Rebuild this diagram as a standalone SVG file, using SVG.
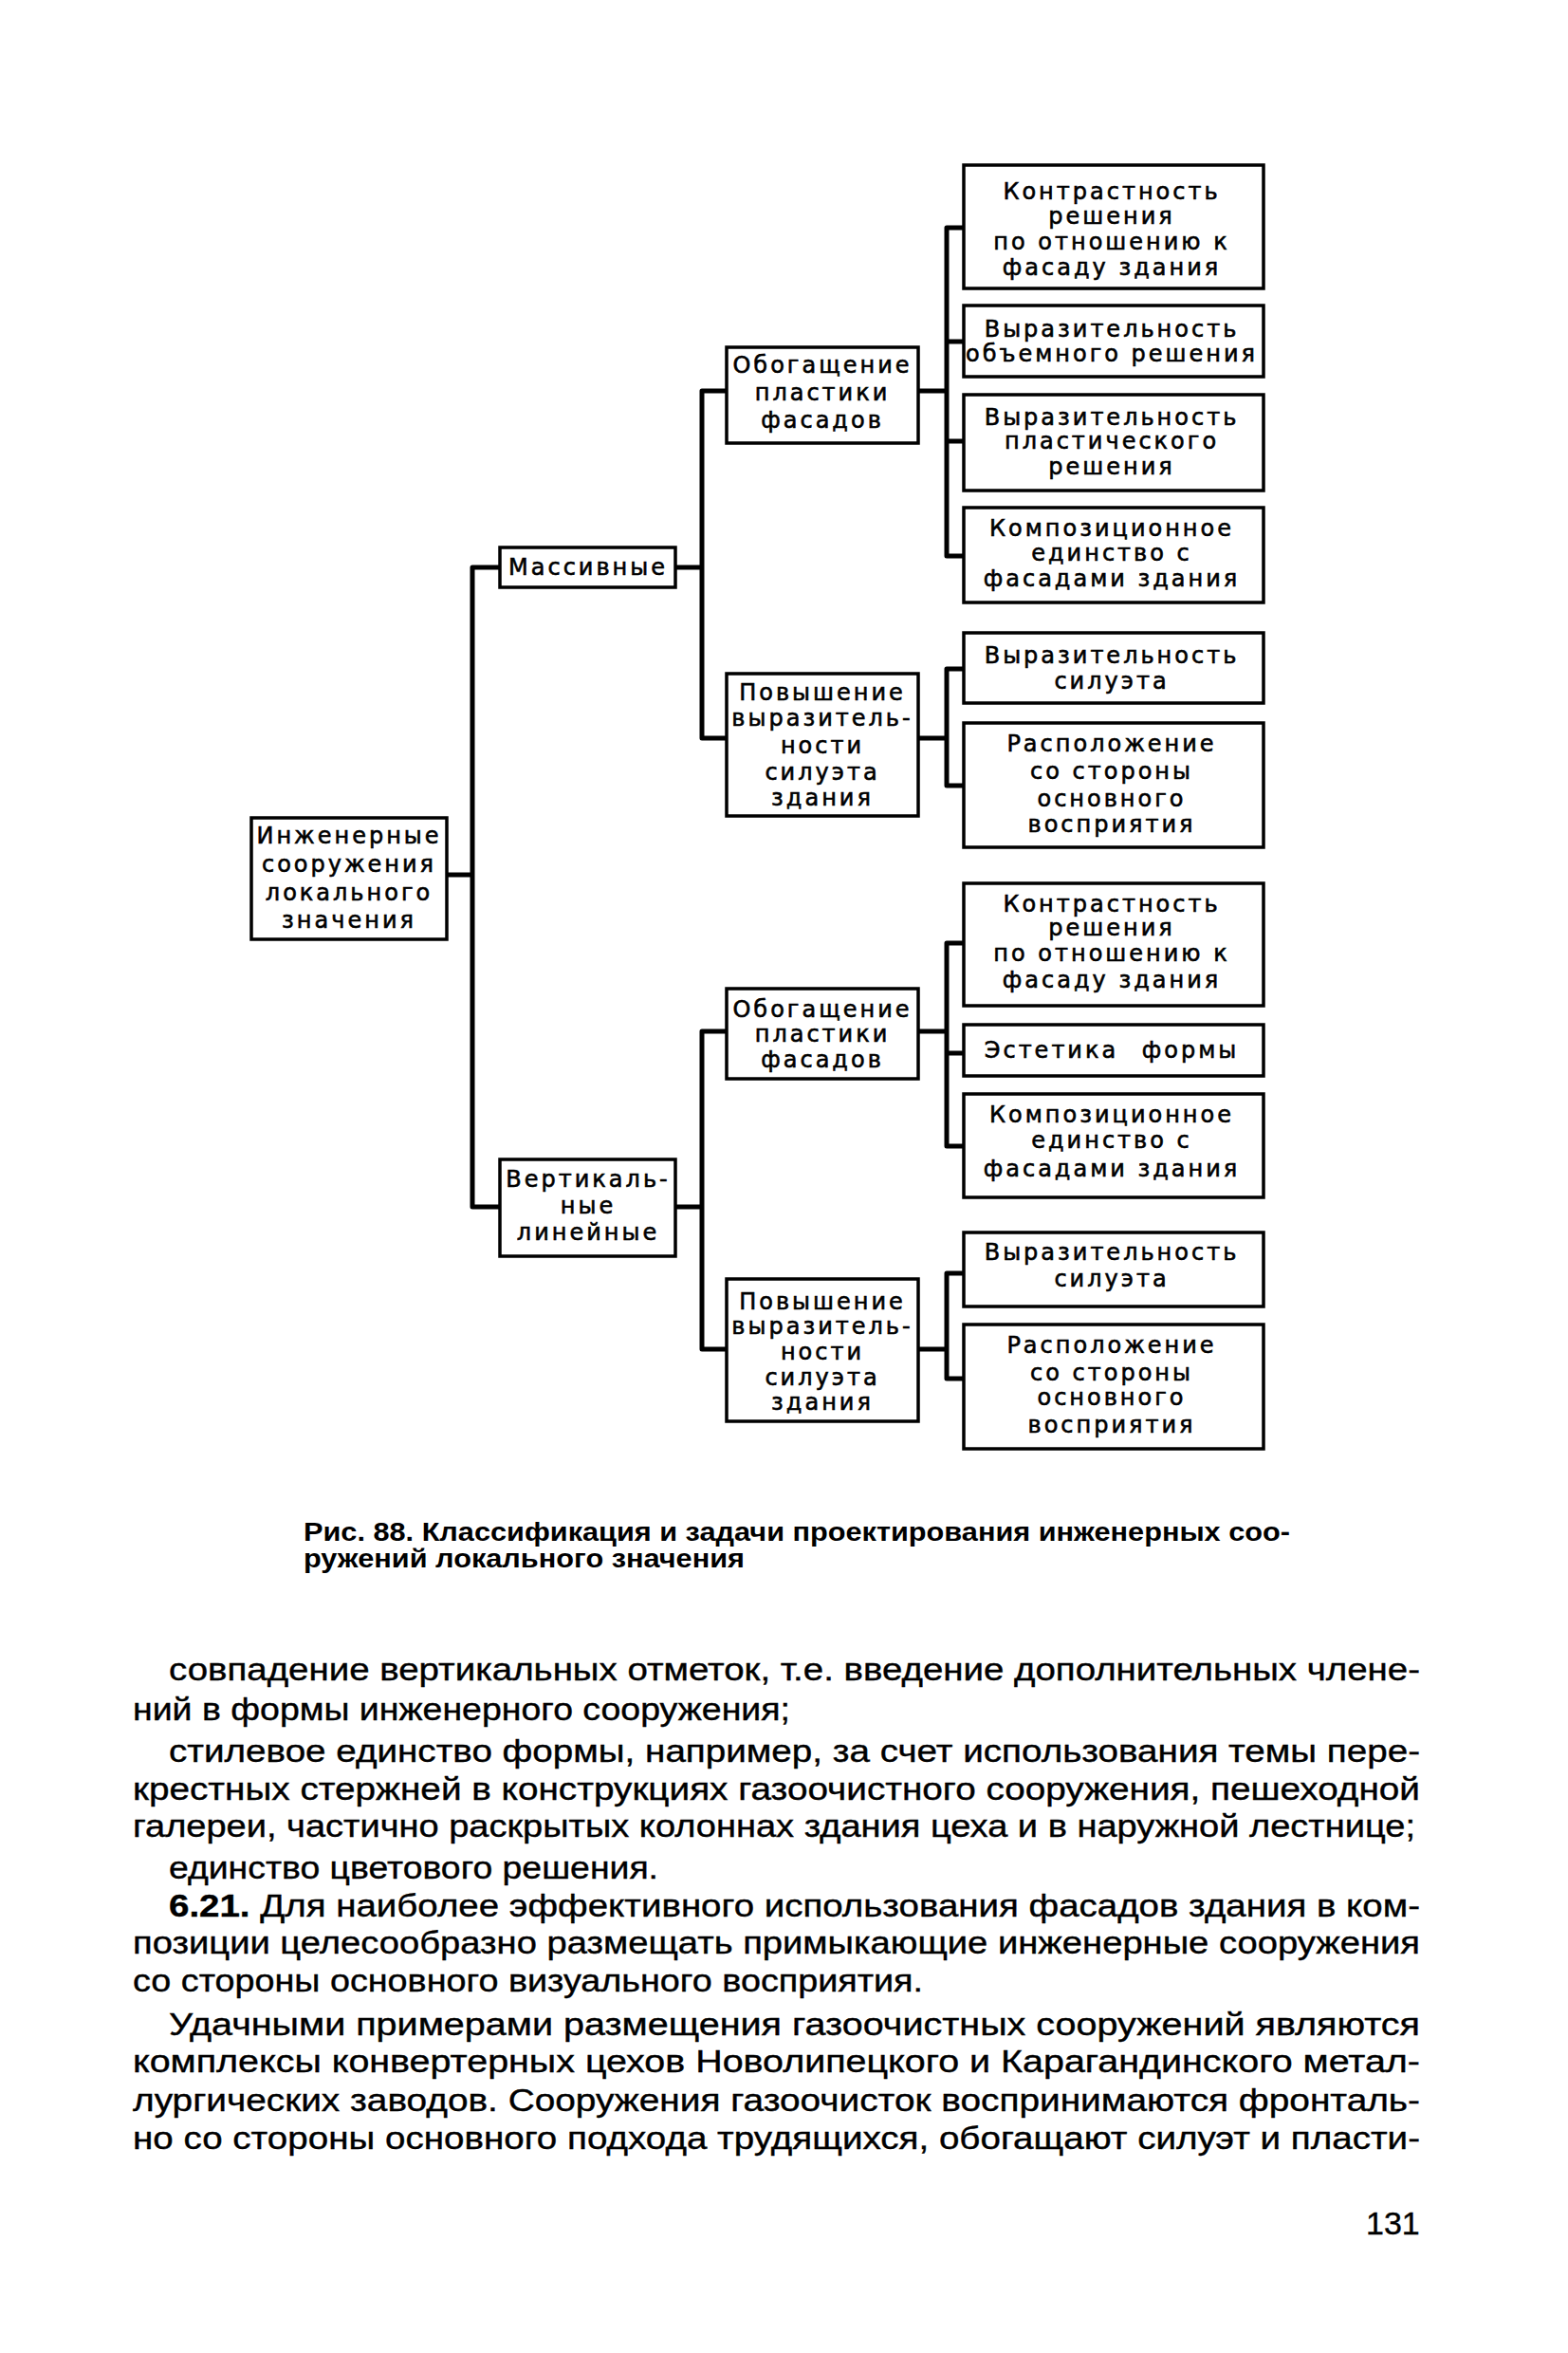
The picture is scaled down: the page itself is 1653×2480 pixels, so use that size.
<svg xmlns="http://www.w3.org/2000/svg" width="1653" height="2480" viewBox="0 0 1653 2480">
<style>
.box{fill:#fff;stroke:#000;stroke-width:3.5}
.conn{fill:none;stroke:#000;stroke-width:5;stroke-linejoin:round}
.t{font-family:"DejaVu Sans","Liberation Sans",sans-serif;font-size:24px;letter-spacing:3px;text-anchor:middle;fill:#000;stroke:#000;stroke-width:0.6}
.body{font-family:"Liberation Sans",Arial,sans-serif;font-size:34px;fill:#000;stroke:#000;stroke-width:0.4}
.cap{font-family:"Liberation Sans",Arial,sans-serif;font-weight:bold;font-size:27px;fill:#000}
</style>
<rect width="1653" height="2480" fill="#fff"/>
<g id="connectors">
<path class="conn" d="M471,922 H498"/>
<path class="conn" d="M527,598 H498 V1272 H527"/>
<path class="conn" d="M712,598 H740"/>
<path class="conn" d="M766,412 H740 V778 H766"/>
<path class="conn" d="M712,1272 H740"/>
<path class="conn" d="M766,1087 H740 V1422 H766"/>
<path class="conn" d="M968,412 H998"/>
<path class="conn" d="M1016,240 H998 V586 H1016"/>
<path class="conn" d="M998,360 H1016 M998,465 H1016"/>
<path class="conn" d="M968,778 H998"/>
<path class="conn" d="M1016,705 H998 V828 H1016"/>
<path class="conn" d="M968,1087 H998"/>
<path class="conn" d="M1016,994 H998 V1208 H1016"/>
<path class="conn" d="M998,1110 H1016"/>
<path class="conn" d="M968,1422 H998"/>
<path class="conn" d="M1016,1342 H998 V1453 H1016"/>
</g>
<g id="root">
<rect class="box" x="265" y="862" width="206" height="128"/>
<text class="t" x="368" y="889">Инженерные</text>
<text class="t" x="368" y="919">сооружения</text>
<text class="t" x="368" y="949">локального</text>
<text class="t" x="368" y="978">значения</text>
</g>
<g id="massive">
<rect class="box" x="527" y="577" width="185" height="42"/>
<text class="t" x="620" y="606">Массивные</text>
</g>
<g id="vertical">
<rect class="box" x="527" y="1222" width="185" height="102"/>
<text class="t" x="620" y="1251">Вертикаль-</text>
<text class="t" x="620" y="1279">ные</text>
<text class="t" x="620" y="1307">линейные</text>
</g>
<g id="m-plastic">
<rect class="box" x="766" y="366" width="202" height="101"/>
<text class="t" x="867" y="393">Обогащение</text>
<text class="t" x="867" y="422">пластики</text>
<text class="t" x="867" y="451">фасадов</text>
</g>
<g id="m-silhouette">
<rect class="box" x="766" y="710" width="202" height="150"/>
<text class="t" x="867" y="738">Повышение</text>
<text class="t" x="867" y="765">выразитель-</text>
<text class="t" x="867" y="794">ности</text>
<text class="t" x="867" y="822">силуэта</text>
<text class="t" x="867" y="849">здания</text>
</g>
<g id="v-plastic">
<rect class="box" x="766" y="1042" width="202" height="95"/>
<text class="t" x="867" y="1072">Обогащение</text>
<text class="t" x="867" y="1098">пластики</text>
<text class="t" x="867" y="1125">фасадов</text>
</g>
<g id="v-silhouette">
<rect class="box" x="766" y="1348" width="202" height="150"/>
<text class="t" x="867" y="1380">Повышение</text>
<text class="t" x="867" y="1406">выразитель-</text>
<text class="t" x="867" y="1433">ности</text>
<text class="t" x="867" y="1460">силуэта</text>
<text class="t" x="867" y="1486">здания</text>
</g>
<g id="r1">
<rect class="box" x="1016" y="174" width="316" height="130"/>
<text class="t" x="1172" y="210">Контрастность</text>
<text class="t" x="1172" y="236">решения</text>
<text class="t" x="1172" y="263">по отношению к</text>
<text class="t" x="1172" y="290">фасаду здания</text>
</g>
<g id="r2">
<rect class="box" x="1016" y="322" width="316" height="75"/>
<text class="t" x="1172" y="355">Выразительность</text>
<text class="t" x="1172" y="381">объемного решения</text>
</g>
<g id="r3">
<rect class="box" x="1016" y="416" width="316" height="101"/>
<text class="t" x="1172" y="448">Выразительность</text>
<text class="t" x="1172" y="473">пластического</text>
<text class="t" x="1172" y="500">решения</text>
</g>
<g id="r4">
<rect class="box" x="1016" y="535" width="316" height="100"/>
<text class="t" x="1172" y="565">Композиционное</text>
<text class="t" x="1172" y="591">единство с</text>
<text class="t" x="1172" y="618">фасадами здания</text>
</g>
<g id="r5">
<rect class="box" x="1016" y="667" width="316" height="74"/>
<text class="t" x="1172" y="699">Выразительность</text>
<text class="t" x="1172" y="726">силуэта</text>
</g>
<g id="r6">
<rect class="box" x="1016" y="762" width="316" height="131"/>
<text class="t" x="1172" y="792">Расположение</text>
<text class="t" x="1172" y="821">со стороны</text>
<text class="t" x="1172" y="850">основного</text>
<text class="t" x="1172" y="877">восприятия</text>
</g>
<g id="r7">
<rect class="box" x="1016" y="931" width="316" height="129"/>
<text class="t" x="1172" y="961">Контрастность</text>
<text class="t" x="1172" y="986">решения</text>
<text class="t" x="1172" y="1013">по отношению к</text>
<text class="t" x="1172" y="1041">фасаду здания</text>
</g>
<g id="r8">
<rect class="box" x="1016" y="1080" width="316" height="54"/>
<text class="t" x="1172" y="1115" word-spacing="14">Эстетика формы</text>
</g>
<g id="r9">
<rect class="box" x="1016" y="1153" width="316" height="109"/>
<text class="t" x="1172" y="1183">Композиционное</text>
<text class="t" x="1172" y="1210">единство с</text>
<text class="t" x="1172" y="1240">фасадами здания</text>
</g>
<g id="r10">
<rect class="box" x="1016" y="1299" width="316" height="78"/>
<text class="t" x="1172" y="1328">Выразительность</text>
<text class="t" x="1172" y="1356">силуэта</text>
</g>
<g id="r11">
<rect class="box" x="1016" y="1396" width="316" height="131"/>
<text class="t" x="1172" y="1426">Расположение</text>
<text class="t" x="1172" y="1455">со стороны</text>
<text class="t" x="1172" y="1481">основного</text>
<text class="t" x="1172" y="1510">восприятия</text>
</g>
<g id="caption">
<text class="cap" x="320" y="1624" textLength="1040" lengthAdjust="spacingAndGlyphs">Рис. 88. Классификация и задачи проектирования инженерных соо-</text>
<text class="cap" x="320" y="1652" textLength="465" lengthAdjust="spacingAndGlyphs">ружений локального значения</text>
</g>
<g id="body">
<text class="body" x="178" y="1771" textLength="1319" lengthAdjust="spacingAndGlyphs">совпадение вертикальных отметок, т.е. введение дополнительных члене-</text>
<text class="body" x="140" y="1813" textLength="693" lengthAdjust="spacingAndGlyphs">ний в формы инженерного сооружения;</text>
<text class="body" x="178" y="1857" textLength="1319" lengthAdjust="spacingAndGlyphs">стилевое единство формы, например, за счет использования темы пере-</text>
<text class="body" x="140" y="1897" textLength="1357" lengthAdjust="spacingAndGlyphs">крестных стержней в конструкциях газоочистного сооружения, пешеходной</text>
<text class="body" x="140" y="1936" textLength="1352" lengthAdjust="spacingAndGlyphs">галереи, частично раскрытых колоннах здания цеха и в наружной лестнице;</text>
<text class="body" x="178" y="1980" textLength="516" lengthAdjust="spacingAndGlyphs">единство цветового решения.</text>
<text class="body" x="178" y="2020" textLength="1319" lengthAdjust="spacingAndGlyphs"><tspan font-weight="bold">6.21.</tspan> Для наиболее эффективного использования фасадов здания в ком-</text>
<text class="body" x="140" y="2059" textLength="1357" lengthAdjust="spacingAndGlyphs">позиции целесообразно размещать примыкающие инженерные сооружения</text>
<text class="body" x="140" y="2099" textLength="833" lengthAdjust="spacingAndGlyphs">со стороны основного визуального восприятия.</text>
<text class="body" x="178" y="2145" textLength="1319" lengthAdjust="spacingAndGlyphs">Удачными примерами размещения газоочистных сооружений являются</text>
<text class="body" x="140" y="2184" textLength="1357" lengthAdjust="spacingAndGlyphs">комплексы конвертерных цехов Новолипецкого и Карагандинского метал-</text>
<text class="body" x="140" y="2225" textLength="1357" lengthAdjust="spacingAndGlyphs">лургических заводов. Сооружения газоочисток воспринимаются фронталь-</text>
<text class="body" x="140" y="2265" textLength="1357" lengthAdjust="spacingAndGlyphs">но со стороны основного подхода трудящихся, обогащают силуэт и пласти-</text>
<text class="body" x="1440" y="2355" font-size="27">131</text>
</g>
</svg>
